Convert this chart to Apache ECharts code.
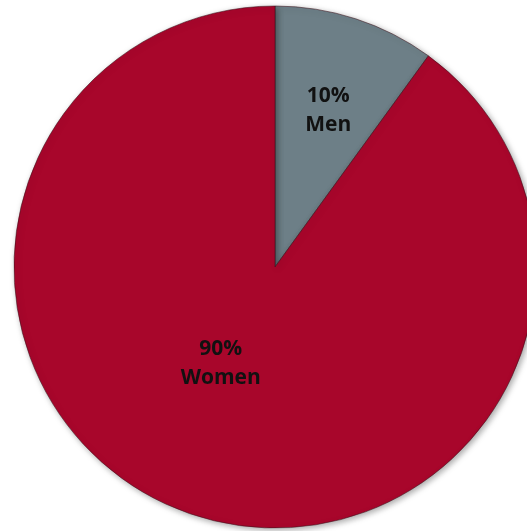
<!DOCTYPE html>
<html><head><meta charset="utf-8">
<script src="https://cdn.jsdelivr.net/npm/echarts@6/dist/echarts.min.js"></script>
<style>html,body{margin:0;padding:0;background:#fff}#c{width:527px;height:531px}</style>
</head><body><div id="c"></div>
<script>
const categories = ['Men', 'Women'];
const values = [10, 90];
const colors = ['#6d7f87', '#a8062b'];
const offsets = [[12, -30], [-13, -30]];

const chart = echarts.init(document.getElementById('c'));
chart.setOption({
  animation: false,
  series: [{
    type: 'pie',
    center: [275, 267],
    radius: 261,
    startAngle: 90,
    clockwise: true,
    data: categories.map((c, i) => ({
      name: c, value: values[i],
      itemStyle: { color: colors[i] },
      label: { offset: offsets[i] }
    })),
    itemStyle: {
      borderColor: 'rgba(60,20,30,0.55)', borderWidth: 1,
      shadowBlur: 6, shadowColor: 'rgba(0,0,0,0.35)', shadowOffsetX: 2, shadowOffsetY: 2
    },
    label: {
      show: true, position: 'inside',
      formatter: p => p.value + '%\n' + p.name,
      fontFamily: 'Open Sans', fontWeight: 'bold', fontSize: 21,
      lineHeight: 29, color: '#111'
    },
    labelLine: { show: false },
    emphasis: { disabled: true }
  }]
});
</script></body></html>
